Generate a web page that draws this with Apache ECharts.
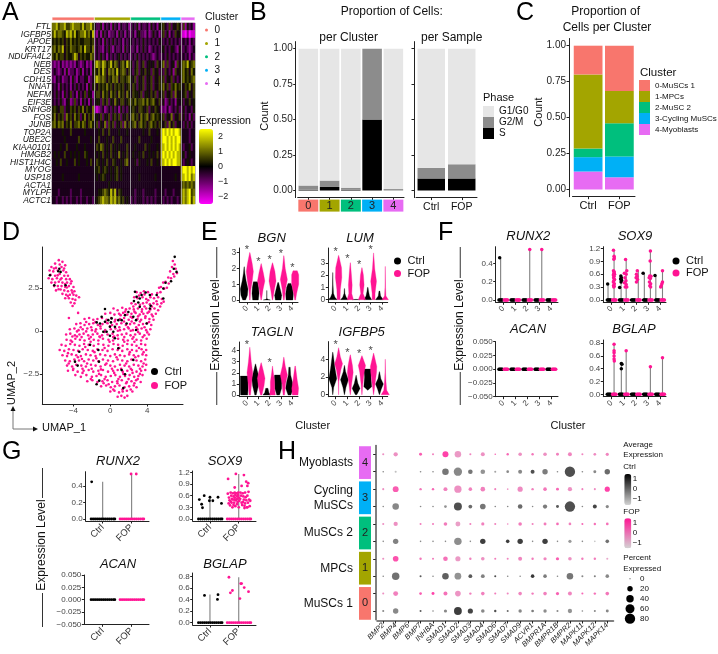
<!DOCTYPE html>
<html><head><meta charset="utf-8">
<style>html,body{margin:0;padding:0;background:#fff}#c{width:718px;height:654px}</style>
<script src="https://cdn.jsdelivr.net/npm/echarts@6/dist/echarts.min.js"></script>
</head><body><div id="c"></div>
<script>
// ---------- DATA ----------
const clusterIds=['0','1','2','3','4'];
const clusterColors=['#F8766D','#A3A500','#00BF7D','#00B0F6','#E76BF3'];
const clusterSizes=[21,18,15,10,7];
const heatGenes=['FTL','IGFBP5','APOE','KRT17','NDUFA4L2','NEB','DES','CDH15','NNAT','NEFM','EIF3E','SNHG8','FOS','JUNB','TOP2A','UBE2C','KIAA0101','HMGB2','HIST1H4C','MYOG','USP18','ACTA1','MYLPF','ACTC1'];
const heatLevels=[-2.5,-2,-1.4,-.8,-.25,.2,.6,1.1,1.8,2.5];
const heatRows=[
'778677866787776867786 433524342534243342 343524334253425 5643635465 2625342',
'686776587868567786758 324253423342534243 342453324235342 4635243645 1102011',
'565656465756565566656 343425343534342434 434343534343435 4343534343 3434243',
'675768465766567586657 343324353243342534 334243534234343 4534354325 3343234',
'657566465568746565576 343534243434534343 343534343432343 3435343434 3434243',
'323242323232432342324 787687568576467586 534634634545364 5736345264 6768567',
'343234252334235243425 657586476758567646 435635464536453 5364352645 6756475',
'324342334253243345234 787676465767466567 546354635463546 4635463534 6756567',
'434253434243534342535 646565756465656456 465354635463546 5746365756 5465746',
'435342534634253463542 566475647564756475 465546355464635 4635463745 4563546',
'434353245236342534253 455364635475466456 657566757567546 3523534254 5354645',
'565466354656465746547 212342343534253435 565466546354654 2324234353 3534435',
'574656375647563574657 454635463564635464 675647567467565 4635473546 3534253',
'675767465746675764675 463547364635463746 567467564675646 5463746354 4353534',
'444445444644444454444 445464464444544454 444444544644454 8989898998 4444344',
'444444544444464444454 446444544644464444 444464444454444 8998989899 4444344',
'444454464444544454444 465764546454544464 445444464544454 8898989898 4344534',
'454544644545454465444 545464546454745464 454454644545464 8989898988 4534544',
'445464454446454445464 465454644654454674 445354445464454 8898989988 4345434',
'444444444444444444444 556456545456454444 444444444444444 4444444444 8998989',
'444445444444454444444 454565445456454444 444454444444544 4444444544 8898978',
'444444444444444444444 444444454444444444 444444444444444 4444444444 6767676',
'444344444344443444444 445567658684654444 443444344444344 4434443444 7878967',
'443443434344343443443 456787768786756454 343444343434344 4343434434 7878968'];

const phaseNames=['G1/G0','G2/M','S'];
const phaseS=[0.005,0.025,0.005,0.5,0.0];
const phaseG2M=[0.03,0.045,0.015,0.5,0.01];
const phaseG1=[0.965,0.93,0.98,0.0,0.99];
const sampleCats=['Ctrl','FOP'];
const sampleS=[0.085,0.085];
const sampleG2M=[0.075,0.1];
const sampleG1=[0.84,0.815];

const clusterLongNames=['0-MuSCs 1','1-MPCs','2-MuSC 2','3-Cycling MuSCs','4-Myoblasts'];
const propCtrl=[0.2,0.515,0.06,0.1,0.125];
const propFop=[0.315,0.225,0.23,0.145,0.085];

const umapFop=[
-5.6,4.1,-5.2,4.0,-6.0,3.9,-5.5,3.85,-4.9,3.8,-6.4,3.7,-5.9,3.65,-5.3,3.7,-6.6,3.5,-6.2,3.45,-5.7,3.5,-5.1,3.5,-4.8,3.4,-6.5,3.25,-6.0,3.2,-5.5,3.3,-5.0,3.2,-4.6,3.2,-6.7,3.05,-6.3,3.0,-5.8,3.05,-5.3,3.05,-4.8,3.0,-4.4,3.0,-6.4,2.8,-6.0,2.8,-5.6,2.85,-5.2,2.8,-4.7,2.8,-4.3,2.75,-6.1,2.6,-5.7,2.6,-5.3,2.6,-4.9,2.55,-4.5,2.6,-4.0,2.55,-5.9,2.35,-5.4,2.4,-5.0,2.35,-4.6,2.3,-4.2,2.35,-3.9,2.3,-5.2,2.15,-4.8,2.1,-4.4,2.1,-4.0,2.1,-3.7,2.05,-4.9,1.9,-4.5,1.9,-4.1,1.85,-3.8,1.8,-4.3,1.65,-3.9,1.6,-4.1,1.45,-3.4,1.95,-4.5,0.75,-3.5,1.05,
6.8,4.05,7.0,3.85,6.7,3.7,7.1,3.6,7.25,3.35,6.5,3.45,6.85,3.3,6.3,3.1,6.6,3.05,6.95,3.15,6.0,2.85,6.35,2.75,5.75,2.8,6.15,2.5,5.5,2.55,5.85,2.45,5.3,2.5,
2.85,2.25,3.3,2.2,3.65,2.3,4.1,2.25,5.1,2.2,5.45,2.25,2.6,1.95,2.95,1.9,3.5,1.95,3.9,1.85,4.35,1.95,4.75,1.9,5.2,1.95,5.6,1.85,2.3,1.6,2.75,1.55,3.55,1.6,3.95,1.65,4.3,1.55,4.7,1.6,5.1,1.55,5.55,1.6,5.8,1.7,
0.35,1.3,0.8,1.2,1.3,1.35,1.7,1.25,2.1,1.3,2.55,1.25,3.0,1.3,3.45,1.25,3.9,1.3,4.35,1.25,4.8,1.3,5.2,1.2,
-0.55,1.0,0.0,1.05,0.45,0.95,0.95,1.0,1.4,1.05,1.85,0.95,2.3,1.0,2.75,1.05,3.2,0.95,3.6,1.0,4.05,1.05,4.5,0.95,4.95,1.0,
-2.8,0.7,-2.3,0.75,-1.85,0.65,-1.4,0.7,-0.9,0.75,-0.4,0.65,0.1,0.75,0.55,0.65,1.05,0.7,1.5,0.75,2.0,0.65,2.4,0.75,2.95,0.7,3.35,0.65,3.8,0.75,4.25,0.7,4.7,0.65,
-3.7,0.4,-3.25,0.45,-2.8,0.35,-2.3,0.4,-1.85,0.45,-1.35,0.35,-0.85,0.4,-0.3,0.45,0.2,0.35,0.7,0.4,1.2,0.45,1.7,0.35,2.15,0.4,2.6,0.45,3.1,0.35,3.55,0.4,4.0,0.45,4.45,0.35,
-4.4,0.1,-3.9,0.15,-3.45,0.05,-3.0,0.1,-2.5,0.15,-2.0,0.05,-1.55,0.1,-1.05,0.15,-0.55,0.05,0.05,0.1,0.55,0.15,1.05,0.05,1.5,0.1,2.0,0.15,2.45,0.05,2.95,0.1,3.4,0.15,3.9,0.05,4.35,0.1,
-4.8,-0.2,-4.35,-0.15,-3.85,-0.25,-3.35,-0.2,-2.9,-0.15,-2.4,-0.25,-1.9,-0.2,-1.4,-0.15,-0.9,-0.25,-0.3,-0.2,0.25,-0.15,0.8,-0.25,1.25,-0.2,1.75,-0.15,2.2,-0.25,2.7,-0.2,3.2,-0.15,3.7,-0.25,4.2,-0.2,
-4.75,-0.5,-4.3,-0.55,-3.8,-0.45,-3.3,-0.5,-2.8,-0.55,-2.3,-0.45,-1.8,-0.5,-1.3,-0.55,-0.8,-0.45,-0.2,-0.5,0.3,-0.55,0.85,-0.45,1.4,-0.5,1.9,-0.55,2.4,-0.45,2.85,-0.5,3.35,-0.55,3.95,-0.45,
-5.3,-0.8,-4.85,-0.85,-4.35,-0.75,-3.85,-0.8,-3.35,-0.85,-2.85,-0.75,-2.35,-0.8,-1.8,-0.85,-1.3,-0.75,-0.75,-0.8,-0.2,-0.85,0.35,-0.75,0.85,-0.8,1.35,-0.85,1.85,-0.75,2.35,-0.8,2.85,-0.85,3.35,-0.75,3.8,-0.8,
-5.5,-1.1,-5.0,-1.15,-4.5,-1.05,-4.0,-1.1,-3.5,-1.15,-3.0,-1.05,-2.45,-1.1,-1.9,-1.15,-1.4,-1.05,-0.85,-1.1,-0.3,-1.15,0.25,-1.05,0.8,-1.1,1.3,-1.15,1.85,-1.05,2.35,-1.1,2.85,-1.15,3.4,-1.05,3.9,-1.1,
-5.2,-1.4,-4.7,-1.45,-4.2,-1.35,-3.7,-1.4,-3.2,-1.45,-2.65,-1.35,-2.15,-1.4,-1.6,-1.45,-1.1,-1.35,-0.55,-1.4,0.0,-1.45,0.5,-1.35,1.05,-1.4,1.55,-1.45,2.05,-1.35,2.55,-1.4,3.05,-1.45,3.5,-1.35,3.9,-1.4,
-4.9,-1.7,-4.4,-1.75,-3.9,-1.65,-3.4,-1.7,-2.85,-1.75,-2.35,-1.65,-1.85,-1.7,-1.3,-1.75,-0.8,-1.65,-0.25,-1.7,0.3,-1.75,0.8,-1.65,1.3,-1.7,1.85,-1.75,2.3,-1.65,2.85,-1.7,3.35,-1.75,3.8,-1.65,
-4.7,-2.0,-4.15,-2.05,-3.7,-1.95,-3.15,-2.0,-2.65,-2.05,-2.1,-1.95,-1.6,-2.0,-1.05,-2.05,-0.55,-1.95,0.0,-2.0,0.5,-2.05,1.05,-1.95,1.55,-2.0,2.05,-2.05,2.55,-1.95,3.05,-2.0,3.5,-2.05,3.9,-1.95,
-4.6,-2.3,-4.05,-2.25,-3.55,-2.35,-2.9,-2.3,-2.35,-2.25,-1.85,-2.35,-1.3,-2.3,-0.8,-2.25,-0.25,-2.35,0.3,-2.3,0.8,-2.25,1.35,-2.35,1.85,-2.3,2.35,-2.25,2.85,-2.35,3.35,-2.3,3.8,-2.25,
-3.8,-2.55,-3.2,-2.65,-2.6,-2.55,-2.0,-2.65,-1.5,-2.6,-1.0,-2.55,-0.5,-2.65,0.05,-2.6,0.55,-2.55,1.05,-2.65,1.6,-2.6,2.1,-2.55,2.6,-2.65,3.05,-2.6,3.5,-2.55,
-2.5,-2.9,-1.95,-2.85,-1.4,-2.95,-0.85,-2.9,-0.3,-2.85,0.2,-2.95,0.75,-2.9,1.25,-2.85,1.8,-2.95,2.3,-2.9,2.8,-2.85,3.3,-2.95,
-1.0,-3.2,-0.45,-3.15,0.05,-3.25,0.5,-3.2,1.0,-3.15,1.55,-3.25,2.05,-3.2,2.55,-3.15,2.85,-3.25,
0.0,-3.5,0.45,-3.45,0.95,-3.55,1.35,-3.5,1.8,-3.45,2.4,-3.5,
0.8,-3.8,1.2,-3.75,1.55,-3.85,1.85,-3.75,
-4.6,-1.28,-4.15,-0.62,-3.62,-0.32,-3.08,-1.62,-2.72,-0.92,-2.14,-0.62,-1.72,-1.22,-1.18,-0.32,-0.62,-0.98,-0.08,-0.62,0.42,-0.32,0.98,-0.98,1.52,-0.62,2.12,-1.22,2.62,-0.62,3.12,-0.98,3.62,-1.22,-4.52,-1.88,-4.02,-2.18,-3.52,-1.52,-3.02,-2.18,-2.52,-1.88,-2.02,-2.18,-1.52,-1.58,-1.02,-2.22,-0.42,-1.88,0.18,-2.18,0.68,-1.52,1.18,-2.18,1.72,-1.88,2.22,-2.18,2.72,-1.52,3.22,-2.18,3.62,-1.88,-3.02,-2.42,-2.12,-2.78,-1.22,-2.48,-0.62,-2.78,0.42,-2.42,0.88,-2.78,1.42,-2.48,1.98,-2.78,2.42,-2.42,2.98,-2.78,3.22,-2.48,-0.72,-3.02,-0.18,-3.08,0.32,-3.38,0.78,-3.02,1.32,-3.38,1.72,-3.02,2.22,-3.38,2.62,-3.02,-3.22,0.22,-2.62,0.52,-2.08,0.22,-1.62,0.52,-1.08,0.28,-0.52,0.52,-0.02,0.28,0.48,0.55,0.98,0.22,1.48,0.55,1.92,0.22,2.32,0.55,2.82,0.22,3.22,0.55,3.72,0.22,4.22,0.52,-4.12,-0.32,-3.62,-0.02,-3.12,-0.35,-2.62,-0.02,-2.12,-0.35,-1.62,-0.02,-1.12,-0.35,-0.62,-0.05,0.32,-0.35,0.82,0.02,1.52,-0.35,2.22,0.02,2.52,-0.35,3.02,-0.05,3.52,-0.35,4.02,-0.08,1.12,0.92,1.62,1.12,2.22,0.82,2.62,1.12,3.02,0.85,3.42,1.12,3.82,0.85,4.22,1.12,4.62,0.85,2.5,1.42,3.22,1.52,3.72,1.42,4.12,1.78,4.52,1.42,5.02,1.72,5.42,1.42,3.12,2.05,3.72,2.12,4.52,2.12,-5.02,3.62,-5.72,3.22,-6.12,3.62,-5.42,2.98,-4.92,2.72,-5.62,2.42,-4.72,2.52,-4.22,2.88,-4.62,2.02,-4.12,2.22];
const umapCtrl=[
-6.56,3.23,-6.09,2.65,-5.65,3.46,-5.4,3.42,-5.54,3.6,-4.86,2.65,7,4.29,7.2,3.42,6.9,3.6,6.6,2.88,6,2.79,5.76,2.46,5.04,2.08,5.76,1.88,2.68,2.27,2.86,1.98,3.2,1.88,3.4,2.08,3.84,2.23,4.3,2.08,2.57,1.73,3.04,1.65,3.2,1.4,4.38,1.46,4.3,1.3,1.96,1.1,1.6,0.92,1.23,0.63,2.5,0.83,2.8,0.63,3.95,0.44,2.8,0.06,1.77,0.44,-0.58,1.27,-0.94,0.83,-1.48,0.5,-1.12,0.44,-0.58,0.54,-0.22,0.63,0.07,0.5,-0.04,0.25,0.5,0.25,0.14,0.73,-0.4,-0.04,0.33,-0.04,-0.04,-0.27,0.5,-0.42,0.87,0.63,-0.76,-0.04,0.87,-1,2.5,-1.67,1.23,-2.25,1.6,-2.5,-1.3,-1.1,-1.23,-1.77,-2.2,-0.8,-3.37,-1.2,-3.84,-1.77,-3.55,-2,-1.2,-2.87,-1.49,-3.08,1.41,-3.3];

// violins: one [value, half width] list per cluster, bottom to top
const bgnCtrl=[[[0,.1],[.3,.23],[.7,.27],[1.2,.14],[1.7,.05],[2.1,.01]],[[0,.2],[.4,.25],[.8,.22],[1.15,.15]],[[0,.25],[.03,.1],[.1,.01],[.6,.005]],[[0,.2],[.3,.25],[.6,.17],[1.1,.03]],[[0,.24],[.4,.27],[.8,.2],[1.05,.1]]];
const bgnFop=[[[0,.02],[.6,.06],[1.2,.17],[1.8,.25],[2.3,.17],[3,.01]],[[0,.02],[.7,.14],[1.2,.26],[1.7,.16],[2.3,.01]],[[0,.02],[.6,.12],[1.2,.25],[1.8,.17],[2.35,.01]],[[0,.03],[.7,.12],[1.3,.25],[2,.1],[2.8,.01]],[[0,.03],[.4,.1],[1,.25],[1.6,.25],[1.85,.15]]];
const lumCtrl=[[[0,.3],[.2,.15],[.5,.05],[1.2,.02],[2.2,.005]],[[0,.27],[.2,.12],[.5,.03],[.9,.01]],[[0,.27],[.03,.05]],[[0,.27],[.3,.12],[.7,.05],[1,.02]],[[0,.27],[.3,.08],[.7,.03]]];
const lumFop=[[[0,.1],[.8,.12],[1.8,.22],[2.6,.2],[3.6,.01]],[[0,.22],[.5,.1],[1.2,.13],[2,.08],[3,.01]],[[0,.25],[.5,.08],[1.2,.15],[2,.1],[2.6,.01]],[[0,.1],[.5,.1],[1.5,.2],[2.5,.08],[3.8,.005]],[[0,.22],[.3,.05],[1,.02],[2.7,.005]]];
const taglnCtrl=[[[0,.25],[.5,.27],[1,.27],[1.7,.27]],[[0,.05],[.8,.2],[1.5,.27],[2.2,.12],[2.8,.01]],[[0,.28],[.2,.15],[.6,.08]],[[0,.1],[.6,.24],[1.7,.27],[1.8,.25]],[[0,.1],[.6,.27],[1.2,.2],[1.8,.08],[2.5,.05]]];
const taglnFop=[[[0,.05],[1,.12],[2,.2],[3,.1],[4.3,.005]],[[0,.05],[.8,.2],[1.5,.27],[2.2,.15],[2.9,.01]],[[0,.2],[.6,.15],[1.2,.15],[2,.06],[2.6,.005]],[[0,.05],[1,.12],[1.8,.25],[2.6,.1],[3.4,.01]],[[0,.2],[.6,.24],[1.3,.15],[2,.08],[2.6,.02]]];
const igfCtrl=[[[0,.01],[.8,.06],[1.8,.27],[3,.15],[4.8,.01]],[[0,.01],[.8,.1],[1.7,.27],[2.6,.08],[3.3,.01]],[[0,.05],[.7,.27],[1.3,.12],[2.2,.005]],[[.5,.005],[.9,.27],[2,.22],[2.9,.27]],[[0,.01],[.6,.12],[1.2,.27],[1.8,.1],[2.6,.01]]];
const igfFop=[[[0,.005],[1.5,.02],[2.8,.15],[3.5,.27],[4.3,.12],[5.3,.005]],[[0,.01],[1.3,.1],[2.5,.2],[3.3,.15],[4.5,.01]],[[0,.01],[1.2,.06],[2.5,.15],[3.3,.25],[4.4,.01]],[[0,.01],[1,.08],[2.5,.2],[3.2,.22],[4.7,.005]],[[0,.28],[.5,.1],[1.5,.05],[2.5,.02],[4,.005]]];
const starsBgn=[[0,3.27],[1,2.53],[2,2.68],[3,3.06],[4,2.17]];
const starsLum=[[0,4.04],[1,3.44],[2,2.98],[3,4.2]];
const starsTagln=[[0,4.66],[2,3.09]];
const starsIgf=[[0,5.8],[1,4.98],[2,4.8],[3,5.2]];

// per-cluster strip panels
const clusterTicks=[0,1,2,3,4];
const zeroOffsets=[.06,.13,.2,.27,.34];
const fRunxCtrl=[[-.3,.46]];
const fRunxFop=[[2.2,.55],[3.2,.55]];
const fRunxStems=[[-.22,.46],[2.2,.55],[3.2,.55]];
const fSoxCtrl=[[-.33,.37],[.66,.29],[.78,.42],[.82,.46],[.74,.49],[.8,.52],[.76,.56],[2.6,.62],[3.58,.57]];
const fSoxFop=[[.15,1.16],[.2,1.02],[.22,.98],[.18,.95],[.15,.68],[.22,.65],[.18,.62],[.24,.6],[.14,.58],[.2,.55],[.16,.52],[.24,.48],[.18,.45],[.14,.42],[.22,.38],[.16,.34],[.2,.32],[.18,.3],[1.15,.94],[1.25,.68],[1.05,.62],[1.2,.6],[1.1,.52],[1.18,.45],[1.05,.4],[1.2,.36],[1.12,.3],[1.25,.3],[2.12,.68],[2.05,.6],[2.1,.55],[2.02,.52],[2.14,.48],[2.05,.42],[3.2,1.14],[3.18,.91],[3.15,.56],[3.25,.55],[3.1,.52],[3.2,.5],[3.12,.42],[3.22,.38],[3.15,.33],[3.22,.3],[4.2,.68],[4.2,.42],[4.15,.38],[4.1,.33],[4.05,.3]];
const fSoxStems=[[-.3,.37],[.2,1.16],[.78,.56],[1.2,.94],[2.2,.68],[2.7,.62],[3.2,1.14],[3.65,.56],[4.2,.68]];
const fBglapCtrl=[[.8,.48],[.85,.47],[.8,.4]];
const fBglapFop=[[.2,.78],[.2,.68],[.2,.65],[.2,.6],[.2,.55],[.22,.52],[1.2,.68],[3.2,.43],[4.2,.57]];
const fBglapStems=[[.2,.78],[.8,.48],[1.2,.68],[3.2,.43],[4.2,.57]];

// per-sample strip panels (0 = Ctrl, 1 = FOP)
const zeroOffsetsG=[-.4,-.33,-.26,-.19,-.12,-.05,.02,.09,.16,.23,.3,.37,.42];
const gRunxCtrl=[[-.38,.45]];
const gRunxFop=[[.98,.545],[1.16,.545]];
const gRunxStems=[[0,.45],[1,.55]];
const gSoxCtrl=[[-.37,.5],[-.2,.6],[-.29,.38],[-.26,.29],[0,.56],[-.02,.47],[.1,.47],[.28,.56],[.4,.4]];
const gSoxFop=[[.62,.65],[.66,.55],[.68,.48],[.65,.4],[.7,.35],[.72,.68],[.74,.6],[.76,.52],[.72,.45],[.78,.3],[.8,.66],[.82,.58],[.8,.5],[.84,.42],[.82,.36],[.86,.68],[.88,.62],[.86,.55],[.9,.48],[.88,.33],[.92,.66],[.94,.58],[.9,.5],[.96,.44],[.94,.38],[.98,.62],[1,.55],[.98,.68],[1.02,.47],[1,.3],[1.06,.68],[1.08,.6],[1.05,.52],[1.1,.42],[1.12,.36],[1.14,.66],[1.16,.58],[1.18,.5],[1.15,.44],[1.2,.34],[1.22,.68],[1.24,.56],[1.26,.48],[1.22,.4],[1.28,.3],[1.3,.6],[1.34,.7],[1.36,.5],[1.32,.42],[1.38,.33],[1.4,.47],[.75,.42],[.85,.5],[.95,.52],[1.2,.28],[1.3,.3],[.63,1.03],[.9,1.16],[1.18,1.13],[1.26,.96],[1.33,.92],[.86,.81],[1.1,.85],[1.3,.85]];
const gSoxStems=[[0,.56],[1,1.16]];
const gBglapCtrl=[[-.19,.475],[.28,.487],[.26,.405]];
const gBglapFop=[[.66,.79],[.78,.56],[.71,.52],[1.07,.68],[1.19,.61],[1.34,.54],[1.04,.42],[1.1,.68]];
const gBglapStems=[[0,.49],[1,.79]];

// dot plot (rows: cluster 0..4)
const dotGenes=['BMP2','BMP4','BMP6','BMP7','INHBA','SMAD1','SMAD2','SMAD3','SMAD4','SMAD6','SMAD7','SMAD9','ACVR1','BMPR1A','BMPR1B','BMPR2','MAPK11','MAPK12','MAPK14'];
const dotRows=['0 Ctrl','0 FOP','1 Ctrl','1 FOP','2 Ctrl','2 FOP','3 Ctrl','3 FOP','4 Ctrl','4 FOP'];
const dotClusterNames=['MuSCs 1','MPCs','MuSCs 2','Cycling\nMuSCs','Myoblasts'];
const pctCtrl=[
[2,20,0,2,1,6,44,18,8,3,2,7,4,7,2,12,1,2,5],
[1,40,0,2,1,30,32,9,9,2,1,1,8,8,1,30,2,2,8],
[1,20,0,1,1,1,40,1,20,0,8,20,1,20,1,6,1,1,8],
[1,30,0,1,1,4,46,9,22,1,1,14,1,12,5,80,1,10,6],
[1,2,0,1,1,30,50,14,14,2,4,10,10,20,1,80,1,5,20]];
const expCtrl=[
[0,0,0,.8,0,0,1.3,1.2,0,1,.5,0,.2,-.1,0,-.2,0,0,0],
[0,.4,0,.8,0,.7,-.2,.8,.1,1,0,0,1.4,.2,0,.3,0,.1,0],
[0,.1,0,0,0,0,-.1,0,1.3,0,1.3,1.3,0,1.3,0,-.3,0,-1,.4],
[0,0,0,0,0,-.2,1,.5,.3,0,0,.5,0,.2,.8,1,0,1.2,0],
[0,-1,0,0,0,.3,0,.3,-.2,-.5,0,0,1,.2,0,1,0,0,.5]];
const pctFop=[
[2,16,0,4,5,10,22,3,8,2,2,8,3,8,6,10,2,3,8],
[2,22,0,3,2,14,18,3,8,2,2,10,3,6,6,8,3,3,2],
[2,12,0,2,2,8,16,2,6,2,1,8,2,5,4,4,2,3,4],
[2,24,0,3,3,10,38,8,14,2,1,18,3,8,5,12,2,2,18],
[2,12,0,5,2,25,30,2,10,1,3,8,3,8,5,10,2,4,6]];
const expFop=[
[0,.3,0,1,1.6,.6,-.1,.3,.3,.4,.2,.2,.4,.3,.9,.2,.8,.6,.5],
[0,1.2,0,.5,.4,.6,-.2,.3,0,.4,.2,.2,.4,.2,1,0,.4,.4,-.5],
[0,0,0,.4,.4,.4,-.3,.3,.3,.3,.2,.4,.3,.4,.7,.3,.8,.6,.6],
[0,1,0,.5,.8,.3,0,.3,.3,.3,0,.1,.3,.5,.8,0,.3,.1,1.5],
[0,0,0,1,.3,1.5,-.2,.2,0,.8,.8,0,.5,0,.3,.2,.2,.1,.2]];
const pctLegendValues=[0,20,40,60,80];
const dotSize=p=>p<=0?0:Math.sqrt(p)*1.1+.5;

// ---------- HELPERS ----------
const FF='"Liberation Sans"';
const FOP='#FF1493',CTRL='#000';
const grids=[],xAxes=[],yAxes=[],series=[],graphics=[],legends=[];
function panel(box,xa,ya){
  grids.push({left:box[0],top:box[1],width:box[2]-box[0],height:box[3]-box[1],containLabel:false,outerBoundsMode:'none'});
  const i=grids.length-1; xa.gridIndex=i; ya.gridIndex=i; xAxes.push(xa); yAxes.push(ya); return i;
}
const axisLine={show:true,onZero:false,lineStyle:{color:'#222',width:1}};
function valAxis(min,max,ticks,o={}){
  return Object.assign({type:'value',min,max,splitLine:{show:false},axisLine,
    axisTick:{show:true,length:2.5,customValues:ticks,lineStyle:{color:'#222'}},
    axisLabel:{show:o.labels!==false,customValues:ticks,fontSize:o.fs||8,color:o.color||'#444',margin:o.margin||3,rotate:o.rotate||0,hideOverlap:false,
      formatter:o.fmt||(v=>String(v).replace('-','\u2212'))}},o.extra||{});
}
function catAxis(data,o={}){
  return {type:'category',data,splitLine:{show:false},axisLine,
    axisTick:{show:true,length:2.5,alignWithLabel:true,lineStyle:{color:'#222'}},
    axisLabel:{interval:0,fontSize:o.fs||11,color:o.color||'#111',margin:o.margin||4}};
}
function T(text,x,y,size,o={}){
  graphics.push({type:'text',x,y,rotation:o.rot||0,silent:true,style:{text,font:(o.italic?'italic ':'')+size+'px '+FF,fill:o.fill||'#111',align:o.align||'center',verticalAlign:'middle'}});
}
function L(x1,y1,x2,y2,col,w){graphics.push({type:'line',silent:true,shape:{x1,y1,x2,y2},style:{stroke:col||'#333',lineWidth:w||1}});}
function stacked(gi,name,data,color,stack,gap){
  series.push({type:'bar',name,xAxisIndex:gi,yAxisIndex:gi,stack,data,barCategoryGap:gap,itemStyle:{color},silent:true});
}
const VW=1.25; // violin width factor on the category band
function violinSeries(gi,name,color,violins,side){
  series.push({type:'custom',name,xAxisIndex:gi,yAxisIndex:gi,itemStyle:{color},silent:true,clip:false,
    data:violins.map((v,i)=>[i+side,v[v.length-1][0]]),encode:{x:0,y:1},
    renderItem:(p,api)=>{const v=violins[p.dataIndex],c=p.dataIndex+side;
      const pts=v.map(a=>api.coord([c-a[1]*VW,a[0]])).concat(v.slice().reverse().map(a=>api.coord([c+a[1]*VW,a[0]])));
      return {type:'polygon',shape:{points:pts},style:{fill:color,stroke:color,lineWidth:.3}};}});
}
function starSeries(gi,data){
  series.push({type:'scatter',xAxisIndex:gi,yAxisIndex:gi,data,symbolSize:0,clip:false,silent:true,
    label:{show:true,formatter:'*',position:'inside',fontSize:11,color:'#111',offset:[0,2]}});
}
function stemSeries(gi,stems){
  series.push({type:'custom',xAxisIndex:gi,yAxisIndex:gi,silent:true,clip:false,data:stems,encode:{x:0,y:1},
    renderItem:(p,api)=>{const x=api.value(0),a=api.coord([x,0]),b=api.coord([x,api.value(1)]);
      return {type:'line',shape:{x1:a[0],y1:a[1],x2:b[0],y2:b[1]},style:{stroke:'#808080',lineWidth:1.1}};}});
}
function dots(gi,name,color,data,size){
  series.push({type:'scatter',name,xAxisIndex:gi,yAxisIndex:gi,data,symbolSize:size||3,itemStyle:{color,opacity:1},silent:true,clip:false});
}
function pairs(f){const o=[];for(let i=0;i<f.length;i+=2)o.push([f[i],f[i+1]]);return o;}
function addLegend(names,left,top,fs,iw,ih,gap,icon){
  legends.push({data:names.map(n=>({name:n,icon})),left,top,orient:'vertical',padding:0,itemWidth:iw,itemHeight:ih,itemGap:gap,selectedMode:false,
    textStyle:{fontSize:fs,color:'#111',fontFamily:FF}});
}
function exprLabel(x,cy,top,bottom){
  T('Expression Level',x,cy,12,{rot:Math.PI/2});
  L(x+1,top,x+1,cy-47,'#555',1.2); L(x+1,cy+47,x+1,bottom,'#555',1.2);
}

// ---------- A ----------
const heatData=[];
heatRows.forEach((r,y)=>r.replace(/ /g,'').split('').forEach((d,x)=>heatData.push([x,y,heatLevels[+d]])));
const nCols=clusterSizes.reduce((a,b)=>a+b,0);
const bounds=[];clusterSizes.reduce((a,b)=>{bounds.push(a+b);return a+b;},0);
const heatIdx=(()=>{
  const g=panel([52,23,195,204],
   {type:'category',data:Array.from({length:nCols},(_,i)=>i),z:5,axisLine:{show:false},axisTick:{show:false},axisLabel:{show:false},
    splitLine:{show:true,interval:i=>bounds.includes(i),lineStyle:{color:'#b5b5b5',width:.8}}},
   {type:'category',data:heatGenes,inverse:true,axisLine:{show:false},axisTick:{show:false},splitLine:{show:false},
    axisLabel:{interval:0,fontSize:8.5,fontStyle:'italic',color:'#111',margin:1}});
  series.push({type:'heatmap',xAxisIndex:g,yAxisIndex:g,data:heatData,silent:true,progressive:0});
  return series.length-1;
})();
const gBar=panel([52,17,195,20.5],
  {type:'value',min:0,max:nCols,show:false},{type:'category',data:['c'],show:false});
clusterIds.forEach((c,i)=>series.push({type:'bar',name:c,xAxisIndex:gBar,yAxisIndex:gBar,stack:'top',barWidth:'100%',data:[clusterSizes[i]],
  itemStyle:{color:clusterColors[i],borderColor:'#fff',borderWidth:.4},silent:true}));
addLegend(clusterIds,203,25,10,6,5,3.4,'circle');
T('Cluster',205,17,10.5,{align:'left'});
T('Expression',199,121,10.5,{align:'left'});
[2,1,0,-1,-2].forEach((v,i)=>T(String(v).replace('-','\u2212'),218,136.7+15*i,9,{align:'left',fill:'#222'}));

// ---------- B ----------
const ticks4=[0,.25,.5,.75,1];
const fmt2=v=>v.toFixed(2);
const gB1=(()=>{
  const xa=catAxis(clusterIds.map((c,i)=>({value:c,textStyle:{backgroundColor:clusterColors[i],width:20,height:12,lineHeight:12,align:'center',color:'#222',fontSize:11}})),{margin:2});
  const ya=valAxis(-.05,1.05,ticks4,{fs:10,color:'#222',fmt:fmt2});
  ya.offset=2;
  return panel([297.7,41.6,404,197.6],xa,ya);
})();
stacked(gB1,'S',phaseS,'#000','p','8%');stacked(gB1,'G2/M',phaseG2M,'#8c8c8c','p','8%');stacked(gB1,'G1/G0',phaseG1,'#e6e6e6','p','8%');
const gB2=(()=>{
  const ya=valAxis(-.05,1.05,ticks4,{labels:false});ya.offset=2;
  return panel([416,41.6,477,197.6],catAxis(sampleCats,{fs:10.5}),ya);
})();
stacked(gB2,'S',sampleS,'#000','p2','10%');stacked(gB2,'G2/M',sampleG2M,'#8c8c8c','p2','10%');stacked(gB2,'G1/G0',sampleG1,'#e6e6e6','p2','10%');
addLegend(phaseNames,483,106,10,11,11,0,'rect');
T('Phase',483,98,11,{align:'left'});
T('Proportion of Cells:',391.7,12,12);
T('per Cluster',348.7,38,12);
T('per Sample',451.7,38,12);
T('Count',265,116,11,{rot:Math.PI/2});

// ---------- C ----------
const gC=(()=>{
  const ya=valAxis(-.05,1.05,ticks4,{fs:10,color:'#222',fmt:fmt2});ya.offset=3.5;
  return panel([572.5,38.5,635,196.7],catAxis(sampleCats,{fs:11,margin:4}),ya);
})();
clusterLongNames.slice().reverse().forEach((n,k)=>{const i=4-k;
  stacked(gC,n,[propCtrl[i],propFop[i]],clusterColors[i],'c','8%');});
addLegend(clusterLongNames,639,80,8,11,11,0,'rect');
T('Cluster',640,73,11.5,{align:'left'});
T('Proportion of',605.7,12,12);
T('Cells per Cluster',607,28,12);
T('Count',539,112,11,{rot:Math.PI/2});

// ---------- D ----------
const gD=panel([42.3,247,183,404],
  valAxis(-7.39,7.9,[-4,0,4],{color:'#444'}),valAxis(-4.22,4.86,[-2.5,0,2.5],{color:'#444'}));
dots(gD,'FOP',FOP,pairs(umapFop),2.6);
dots(gD,'Ctrl',CTRL,pairs(umapCtrl),2.6);
addLegend(['Ctrl','FOP'],151,366,11,10,7,3,'circle');
T('UMAP_2',12,383,11,{rot:Math.PI/2});
T('UMAP_1',42,428,11,{align:'left'});
L(13,429,13,411,'#777',1);L(13,429,34,429,'#777',1);
graphics.push({type:'polygon',silent:true,shape:{points:[[13,406],[10.5,411],[15.5,411]]},style:{fill:'#111'}});
graphics.push({type:'polygon',silent:true,shape:{points:[[38,429],[33,426.5],[33,431.5]]},style:{fill:'#111'}});

// ---------- E ----------
function violinPanel(box,xr,yr,yt,c,f,stars){
  const g=panel(box,valAxis(xr[0],xr[1],clusterTicks,{rotate:45,fs:8,margin:5}),valAxis(yr[0],yr[1],yt,{fs:8.5}));
  violinSeries(g,'Ctrl',CTRL,c,-.25);violinSeries(g,'FOP',FOP,f,.25);starSeries(g,stars);return g;
}
violinPanel([239.3,248,298,302],[-.68,4.5],[-.127,3.29],[0,1,2,3],bgnCtrl,bgnFop,starsBgn);
violinPanel([328.3,248,387.7,302],[-.635,4.46],[-.187,4.2],[0,1,2,3],lumCtrl,lumFop,starsLum);
violinPanel([239.3,342,298,396.7],[-.68,4.5],[-.153,4.77],[0,1,2,3,4],taglnCtrl,taglnFop,starsTagln);
violinPanel([328.3,341.6,387.7,396.7],[-.635,4.46],[-.226,6],[0,2,4],igfCtrl,igfFop,starsIgf);
T('BGN',271.7,238,13,{italic:true});T('LUM',360,238,13,{italic:true});
T('TAGLN',272,332,13,{italic:true});T('IGFBP5',361.7,332,13,{italic:true});
exprLabel(215.7,325,247,405);
addLegend(['Ctrl','FOP'],394,255.5,11,10,7,1.5,'circle');
T('Cluster',312.7,425.7,11);

// ---------- F ----------
function stripPanel(box,xr,yr,yt,zeroX,ctrl,fop,stems,o={}){
  const xa=o.samples?valAxis(xr[0],xr[1],[0,1],{rotate:45,fs:9.5,color:'#333',margin:5,fmt:v=>sampleCats[v]}):valAxis(xr[0],xr[1],clusterTicks,{rotate:45,fs:8,margin:5});
  const g=panel(box,xa,valAxis(yr[0],yr[1],yt,{fs:8,fmt:o.fmt}));
  stemSeries(g,stems);
  const zc=[],zf=[];
  if(o.samples){zeroX.forEach(x=>{zc.push([x,0]);zf.push([1+x,0]);});}
  else clusterTicks.forEach(c=>zeroX.forEach(x=>{zc.push([c-x-.02,0]);zf.push([c+x+.02,0]);}));
  dots(g,'Ctrl',CTRL,zc.concat(ctrl),o.size||3.5);
  dots(g,'FOP',FOP,zf.concat(fop),o.size||3.5);
  return g;
}
const x1=[-.63,4.55],x2=[-.69,4.49],ticksAcan=[-.05,-.025,0,.025,.05];
const fmtAcan=v=>v.toFixed(3).replace('-','\u2212');
stripPanel([495.7,246.7,558,302.3],x1,[-.025,.581],[0,.2,.4],zeroOffsets,fRunxCtrl,fRunxFop,fRunxStems,{fmt:v=>v.toFixed(1)});
stripPanel([603.3,246.7,666,302.3],x2,[-.053,1.24],[0,.3,.6,.9,1.2],zeroOffsets,fSoxCtrl,fSoxFop,fSoxStems,{fmt:v=>v.toFixed(1)});
stripPanel([495.7,341.7,558,396.7],x1,[-.05,.05],ticksAcan,zeroOffsets,[],[],[],{fmt:fmtAcan});
stripPanel([603.3,340,666,396.7],x2,[-.037,.848],[0,.2,.4,.6,.8],zeroOffsets,fBglapCtrl,fBglapFop,fBglapStems,{fmt:v=>v.toFixed(1)});
T('RUNX2',528.3,236.7,13,{italic:true});T('SOX9',635,236.7,13,{italic:true});
T('ACAN',528,329,13,{italic:true});T('BGLAP',634,329,13,{italic:true});
exprLabel(459.3,325,247,405);
addLegend(['Ctrl','FOP'],672.5,255.5,11,10,7,1,'circle');
T('Cluster',568,425.7,11);

// ---------- G ----------
const gx1=[-.586,1.6],gx2=[-.6,1.6];
const S={samples:true,size:2.8,fmt:v=>v.toFixed(1)};
stripPanel([85.7,471.7,149,521],gx1,[-.024,.573],[0,.2,.4],zeroOffsetsG,gRunxCtrl,gRunxFop,gRunxStems,S);
stripPanel([192.7,471,256,521],gx2,[-.051,1.234],[0,.3,.6,.9,1.2],zeroOffsetsG,gSoxCtrl,gSoxFop,gSoxStems,S);
stripPanel([84.3,575,149,624.3],[-.634,1.6],[-.05,.05],ticksAcan,zeroOffsetsG,[],[],[],Object.assign({},S,{fmt:fmtAcan}));
stripPanel([192.7,573,256,625],gx2,[-.04,.864],[0,.2,.4,.6,.8],zeroOffsetsG,gBglapCtrl,gBglapFop,gBglapStems,S);
T('RUNX2',118,461.7,13,{italic:true});T('SOX9',225,461.7,13,{italic:true});
T('ACAN',118,564,13,{italic:true});T('BGLAP',225,564,13,{italic:true});
T('Expression Level',41.7,545,12,{rot:Math.PI/2});
L(42.5,468,42.5,498,'#333',1);L(42.5,593,42.5,627,'#333',1);

// ---------- H ----------
const dotData=(pct,exp,off)=>{const o=[];pct.forEach((r,c)=>r.forEach((p,g)=>{if(p>0)o.push([g,c*2+off,exp[c][g],p]);}));return o;};
const gH=(()=>{
  const xa=catAxis(dotGenes,{fs:7.5,margin:3});
  xa.offset=1.3;xa.axisLabel.rotate=45;xa.axisLabel.fontStyle='italic';xa.axisLabel.color='#222';xa.axisLine={show:true,onZero:false,lineStyle:{color:'#555',width:1.5}};
  const ya=catAxis(dotRows);ya.axisLabel.show=false;ya.offset=1.3;ya.axisLine={show:true,onZero:false,lineStyle:{color:'#555',width:1.5}};
  return panel([377,445.6,613.5,619.7],xa,ya);
})();
const sz=v=>dotSize(v[3]);
series.push({type:'scatter',name:'dotCtrl',xAxisIndex:gH,yAxisIndex:gH,data:dotData(pctCtrl,expCtrl,0),symbolSize:sz,silent:true});
const sCtrl=series.length-1;
series.push({type:'scatter',name:'dotFop',xAxisIndex:gH,yAxisIndex:gH,data:dotData(pctFop,expFop,1),symbolSize:sz,silent:true});
const sFop=series.length-1;
const gSide=panel([359,445,371,621],{type:'value',min:0,max:1,show:false},
  (()=>{const y=catAxis(dotClusterNames,{fs:12,margin:6});y.axisLabel.lineHeight=15;y.axisLine={show:false};y.axisTick={show:false};return y;})());
series.push({type:'bar',xAxisIndex:gSide,yAxisIndex:gSide,barCategoryGap:'7%',silent:true,
  data:clusterIds.map((c,i)=>({value:1,itemStyle:{color:clusterColors[i]}})),
  label:{show:true,position:'inside',fontSize:11,color:'#222',formatter:p=>clusterIds[p.dataIndex]}});
T('Average',623.3,445,8,{align:'left'});T('Expression',623.3,455,8,{align:'left'});
T('Ctrl',623.3,467,8,{align:'left'});T('FOP',623.3,511.7,8,{align:'left'});
T('Percent',623.3,558,8,{align:'left'});T('Expressed',623.3,569,8,{align:'left'});
[['1',478.3],['0',489],['\u22121',498.3],['1',522.3],['0',533],['\u22121',542.7]].forEach(a=>T(a[0],632.7,a[1],8,{align:'left'}));
pctLegendValues.forEach((p,i)=>{const y=578.7+10*i;
  graphics.push({type:'circle',silent:true,shape:{cx:630,cy:y,r:Math.max(dotSize(p),1)/2},style:{fill:'#000'}});
  T(String(p),640,y,8,{align:'left'});});

// ---------- Panel letters ----------
[['A',2,13],['B',250,13],['C',516,13],['D',2,233],['E',201,233],['F',438,233],['G',2,452],['H',278,452]].forEach(a=>T(a[0],a[1],a[2],25,{align:'left',fill:'#000'}));

// ---------- Chart ----------
const chart=echarts.init(document.getElementById('c'),null,{renderer:'canvas'});
chart.setOption({
  animation:false,backgroundColor:'#fff',textStyle:{fontFamily:FF},tooltip:{show:false},
  grid:grids,xAxis:xAxes,yAxis:yAxes,series,legend:legends,graphic:{elements:graphics},
  visualMap:[
   {type:'continuous',seriesIndex:heatIdx,dimension:2,min:-2.5,max:2.5,inRange:{color:['#ff00ff','#000000','#ffff00']},left:199,top:129,itemWidth:14,itemHeight:75,padding:0,calculable:false,hoverLink:false},
   {type:'continuous',seriesIndex:sCtrl,dimension:2,min:-1.5,max:1.5,inRange:{color:['#d3d3d3','#000000']},left:624.3,top:474,itemWidth:7,itemHeight:31,padding:0,calculable:false,hoverLink:false},
   {type:'continuous',seriesIndex:sFop,dimension:2,min:-1.5,max:1.5,inRange:{color:['#d3d3d3','#ff1493']},left:624.3,top:518.3,itemWidth:7,itemHeight:30,padding:0,calculable:false,hoverLink:false}
  ]
});
</script></body></html>
